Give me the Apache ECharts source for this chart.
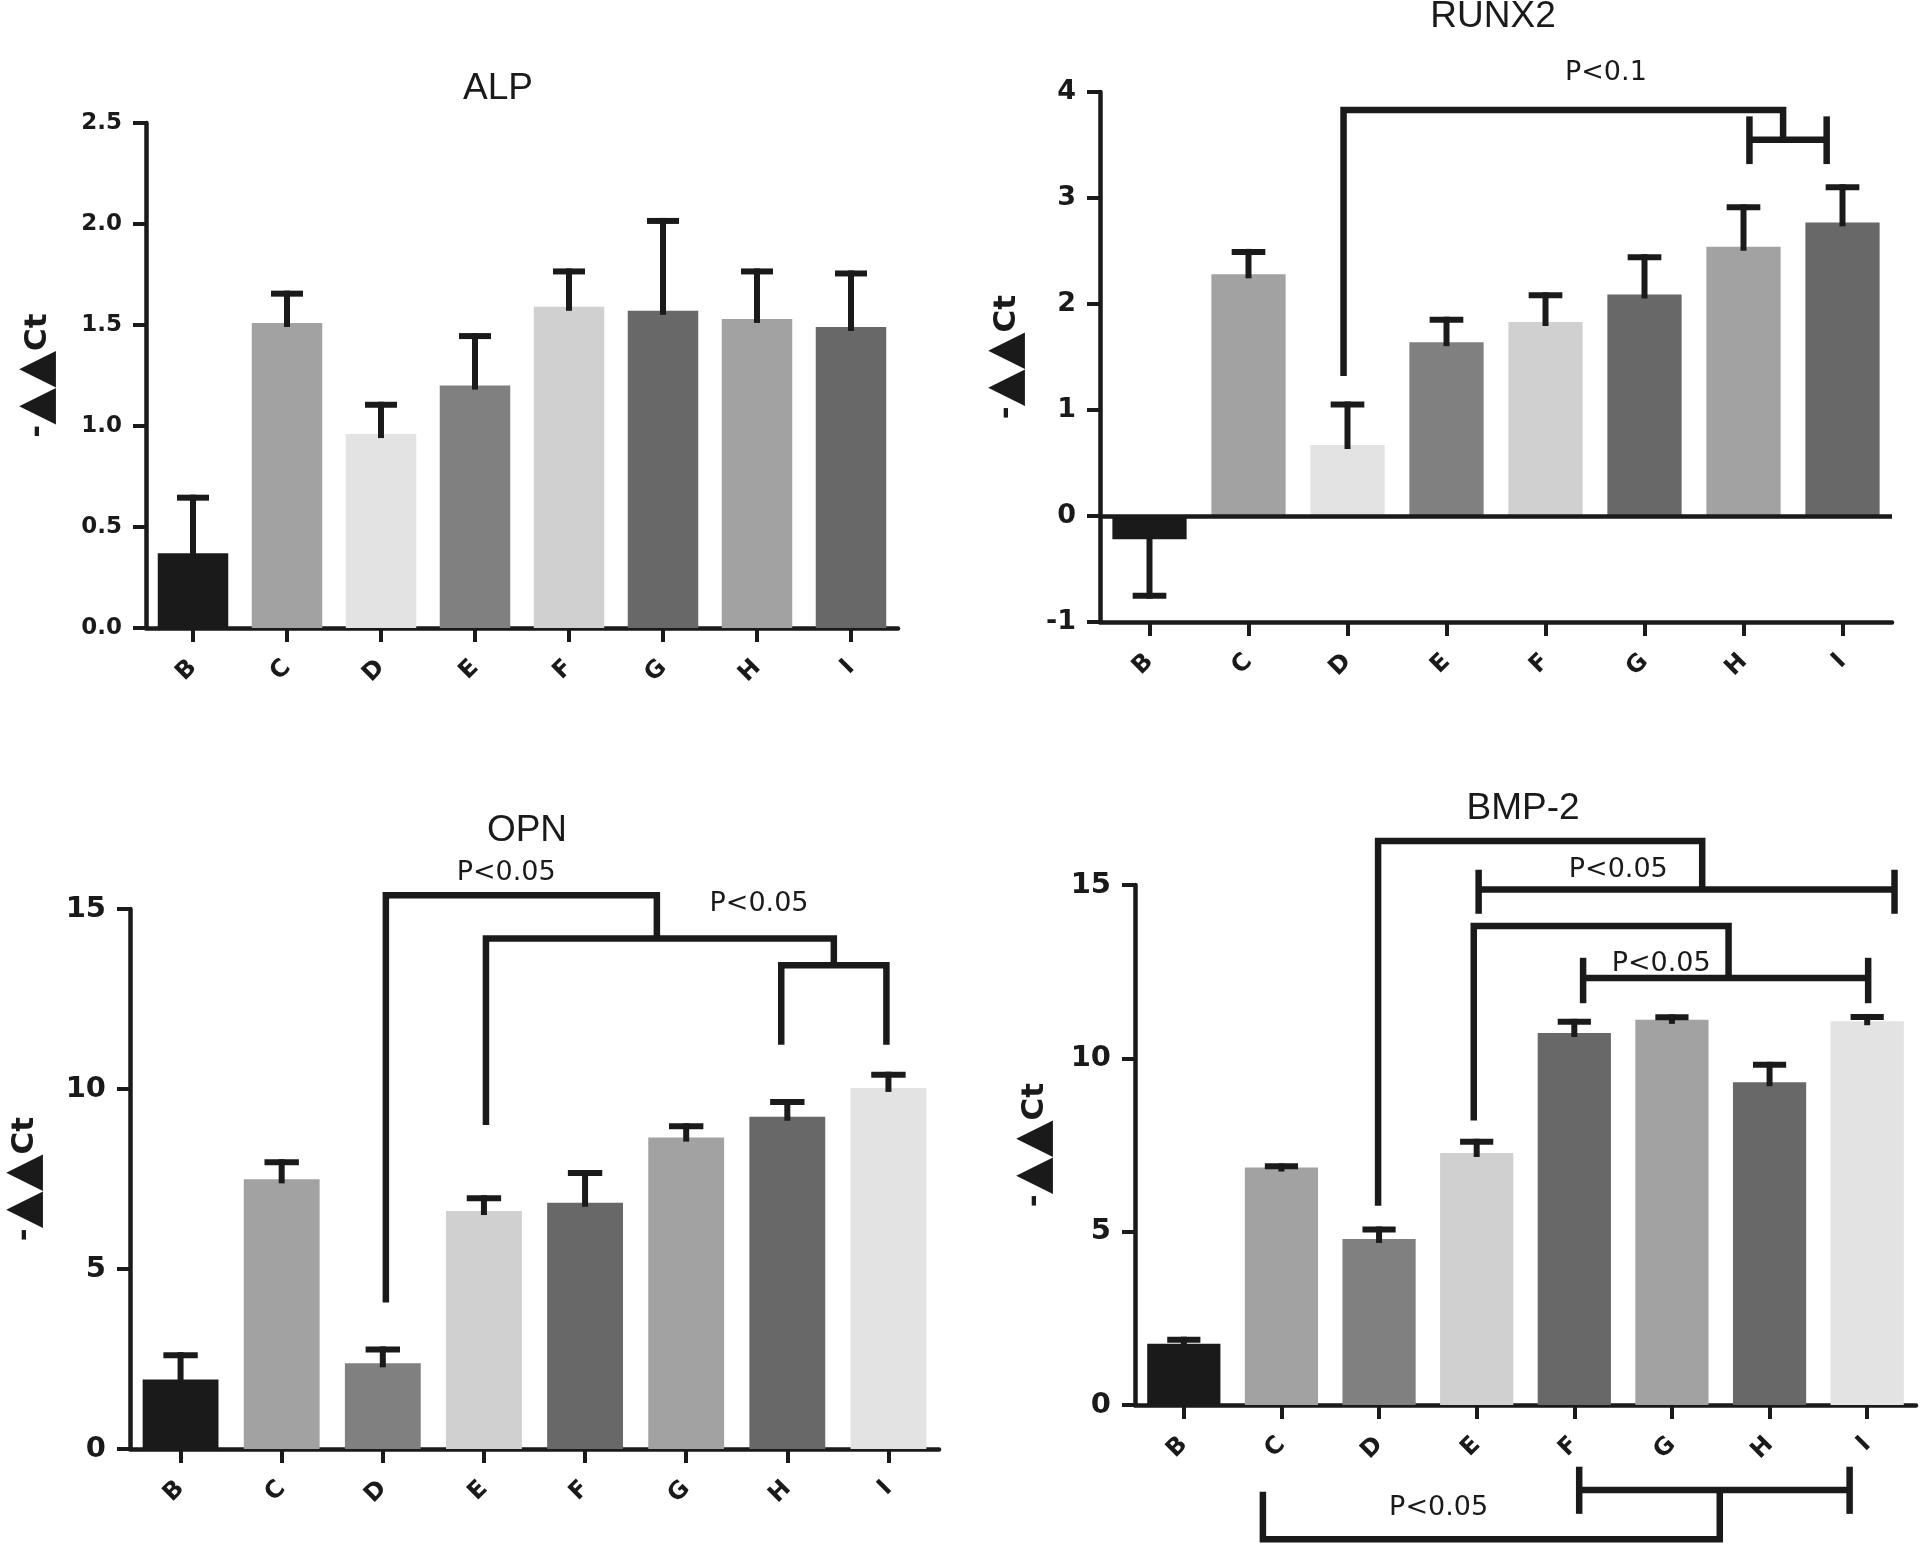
<!DOCTYPE html>
<html><head><meta charset="utf-8">
<script src="https://cdn.jsdelivr.net/npm/echarts@6/dist/echarts.min.js"></script>
<style>html,body{margin:0;padding:0;background:#fff}#chart{width:1920px;height:1544px}</style>
</head><body><div id="chart"></div>
<script>
// ---------- data ----------
const categories = ['B','C','D','E','F','G','H','I'];

const alpMean   = [0.37, 1.51, 0.96, 1.20, 1.59, 1.57, 1.53, 1.49];
const alpErr    = [0.66, 1.67, 1.12, 1.46, 1.78, 2.03, 1.78, 1.77];
const runx2Mean = [-0.22, 2.28, 0.67, 1.64, 1.83, 2.09, 2.54, 2.77];
const runx2Err  = [-0.78, 2.52, 1.08, 1.88, 2.11, 2.47, 2.94, 3.13];
const opnMean   = [1.93, 7.49, 2.38, 6.61, 6.84, 8.65, 9.23, 10.03];
const opnErr    = [2.69, 8.05, 2.85, 7.05, 7.75, 9.05, 9.72, 10.48];
const bmpMean   = [1.77, 6.85, 4.79, 7.27, 10.73, 11.11, 9.31, 11.07];
const bmpErr    = [1.97, 6.97, 5.15, 7.68, 11.14, 11.27, 9.90, 11.28];

const alpTicks   = [0, 0.5, 1.0, 1.5, 2.0, 2.5];
const runx2Ticks = [-1, 0, 1, 2, 3, 4];
const opnTicks   = [0, 5, 10, 15];
const bmpTicks   = [0, 5, 10, 15];

// significance brackets: polylines of [categoryIndex, value]
const runx2Brackets = [
  [[[1.96,1.32],[1.96,3.83],[6.40,3.83],[6.40,3.57]]],
  [[[6.06,3.55],[6.84,3.55]], [[6.06,3.77],[6.06,3.32]], [[6.84,3.77],[6.84,3.32]]]
];
const opnBrackets = [
  [[[2.03,4.07],[2.03,15.38],[4.71,15.38],[4.71,14.25]]],
  [[[3.02,9.0],[3.02,14.18],[6.46,14.18],[6.46,13.42]]],
  [[[5.94,11.23],[5.94,13.44],[6.98,13.44],[6.98,11.23]]]
];
const bmpBrackets = [
  [[[1.99,5.75],[1.99,16.27],[5.31,16.27],[5.31,14.87]]],
  [[[3.02,14.87],[7.28,14.87]], [[3.02,15.44],[3.02,14.17]], [[7.28,15.44],[7.28,14.17]]],
  [[[2.97,8.21],[2.97,13.82],[5.58,13.82],[5.58,12.32]]],
  [[[4.09,12.32],[7.01,12.32]], [[4.09,12.9],[4.09,11.59]], [[7.01,12.9],[7.01,11.59]]],
  [[[0.81,-2.5],[0.81,-3.87],[5.49,-3.87],[5.49,-2.45]]],
  [[[4.05,-2.45],[6.82,-2.45]], [[4.05,-1.78],[4.05,-3.14]], [[6.82,-1.78],[6.82,-3.14]]]
];
const runx2Notes = [{x:4.61, y:4.18, text:'P<0.1'}];
const opnNotes   = [{x:3.22, y:16.0, text:'P<0.05'}, {x:5.72, y:15.15, text:'P<0.05'}];
const bmpNotes   = [{x:4.45, y:15.42, text:'P<0.05'}, {x:4.89, y:12.72, text:'P<0.05'}, {x:2.61, y:-2.96, text:'P<0.05'}];

// ---------- styles ----------
const INK = '#1a1a1a';
const colorsA = ['#1a1a1a','#a2a2a2','#e3e3e3','#808080','#d0d0d0','#686868','#a2a2a2','#686868'];
const colorsB = ['#1a1a1a','#a2a2a2','#808080','#d0d0d0','#686868','#a2a2a2','#686868','#e3e3e3'];
const FONT = '"Liberation Sans", Arial, sans-serif';
const BOLDFONT = '"DejaVu Sans", "Liberation Sans", sans-serif';

const panels = [
  {title:'ALP', mean:alpMean, err:alpErr, ticks:alpTicks, colors:colorsA, brackets:[], notes:[],
   grid:{left:146, top:123, width:752, height:505}, titlePos:[498,89], tickFont:23, nameGap:84, dec:1, zero:false},
  {title:'RUNX2', mean:runx2Mean, err:runx2Err, ticks:runx2Ticks, colors:colorsA, brackets:runx2Brackets, notes:runx2Notes,
   grid:{left:1100, top:92, width:792, height:530}, titlePos:[1493,17], tickFont:27, nameGap:69, dec:0, zero:true},
  {title:'OPN', mean:opnMean, err:opnErr, ticks:opnTicks, colors:colorsB, brackets:opnBrackets, notes:opnNotes,
   grid:{left:123, top:909, width:816, height:540}, titlePos:[527,831], tickFont:29, nameGap:81, dec:0, zero:false},
  {title:'BMP-2', mean:bmpMean, err:bmpErr, ticks:bmpTicks, colors:colorsB, brackets:bmpBrackets, notes:bmpNotes,
   grid:{left:1135, top:885, width:781, height:520}, titlePos:[1523,809], tickFont:29, nameGap:76, dec:0, zero:false}
];

const option = {animation:false, backgroundColor:'#fff', title:[], grid:[], xAxis:[], yAxis:[], series:[]};

panels.forEach((p, g) => {
  option.title.push({text:p.title, left:p.titlePos[0], top:p.titlePos[1]-19, textAlign:'center', padding:0,
    textStyle:{fontFamily:FONT, fontSize:37, fontWeight:'normal', color:INK}});
  option.grid.push(Object.assign({containLabel:false}, p.grid));
  const catIdx = option.xAxis.length;
  option.xAxis.push({type:'category', gridIndex:g, data:categories, boundaryGap:true,
    axisLine:{show:true, onZero:false, lineStyle:{color:INK, width:4.5}},
    axisTick:{show:true, alignWithLabel:true, length:14, lineStyle:{color:INK, width:4}},
    axisLabel:{interval:0, rotate:45, margin:36, color:INK, fontFamily:BOLDFONT, fontWeight:'bold', fontSize:24},
    splitLine:{show:false}});
  const valIdx = option.xAxis.length;
  option.xAxis.push({type:'value', gridIndex:g, min:-0.5, max:categories.length-0.5, show:false,
    axisLine:{onZero:false}});
  const t = p.ticks;
  option.yAxis.push({type:'value', gridIndex:g, min:t[0], max:t[t.length-1], interval:t[1]-t[0],
    name:'-{t|▲▲}Ct', nameLocation:'middle', nameRotate:90, nameGap:p.nameGap,
    nameTextStyle:{fontFamily:BOLDFONT, fontWeight:'bold', fontSize:31, color:INK,
      rich:{t:{fontFamily:'"DejaVu Sans", sans-serif', fontSize:48, color:INK}}},
    axisLine:{show:true, onZero:false, lineStyle:{color:INK, width:4.5}},
    axisTick:{show:true, length:13, lineStyle:{color:INK, width:4}},
    axisLabel:{margin:24, color:INK, fontFamily:BOLDFONT, fontWeight:'bold', fontSize:p.tickFont,
      formatter: v => Number(v).toFixed(p.dec)},
    splitLine:{show:false}});
  const bar = {type:'bar', xAxisIndex:catIdx, yAxisIndex:g, barWidth:'75%', z:2,
    data: p.mean.map((v,i) => ({value:v, itemStyle:{color:p.colors[i]}}))};
  if (p.zero) {
    bar.markLine = {symbol:['none','none'], silent:true, label:{show:false},
      lineStyle:{color:INK, width:4.5, type:'solid'}, data:[{yAxis:0}]};
  }
  option.series.push(bar);
  // error bars
  option.series.push({type:'custom', xAxisIndex:valIdx, yAxisIndex:g, z:3, silent:true,
    data: p.mean.map((v,i) => [i, v, p.err[i]]),
    renderItem: (params, api) => {
      const x = api.value(0), m = api.value(1), e = api.value(2);
      const p0 = api.coord([x, m]), p1 = api.coord([x, e]);
      const band = api.size([1, 0])[0];
      const half = band * 0.17, lw = 6;
      const up = p1[1] < p0[1];
      const capY = up ? p1[1] : p1[1] - lw;
      const top = up ? p1[1] : p0[1] - 4;
      const bot = up ? p0[1] + 4 : p1[1];
      return {type:'group', children:[
        {type:'rect', shape:{x:p0[0]-lw/2, y:top, width:lw, height:bot-top}, style:{fill:INK}},
        {type:'rect', shape:{x:p1[0]-half, y:capY, width:half*2, height:lw}, style:{fill:INK}}
      ]};
    }});
  if (p.brackets.length) {
    const br = p.brackets;
    option.series.push({type:'custom', xAxisIndex:valIdx, yAxisIndex:g, z:4, silent:true, clip:false,
      data: br.map((b,i) => [b[0][0][0], b[0][0][1], i]),
      renderItem: (params, api) => {
        const b = br[api.value(2)];
        return {type:'group', children: b.map(pl => ({type:'polyline',
          shape:{points: pl.map(pt => api.coord(pt))},
          style:{stroke:INK, lineWidth:6.5, fill:null, lineJoin:'miter', lineCap:'butt'}}))};
      }});
  }
  if (p.notes.length) {
    const nt = p.notes;
    option.series.push({type:'custom', xAxisIndex:valIdx, yAxisIndex:g, z:5, silent:true, clip:false,
      data: nt.map((n,i) => [n.x, n.y, i]),
      renderItem: (params, api) => {
        const n = nt[api.value(2)];
        const pt = api.coord([n.x, n.y]);
        return {type:'text', x:pt[0], y:pt[1], style:{text:n.text, fill:INK, fontSize:27,
          fontFamily:'"DejaVu Sans", sans-serif', align:'center', verticalAlign:'middle'}};
      }});
  }
});

const chart = echarts.init(document.getElementById('chart'), null, {renderer:'canvas'});
chart.setOption(option);
</script>
</body></html>
